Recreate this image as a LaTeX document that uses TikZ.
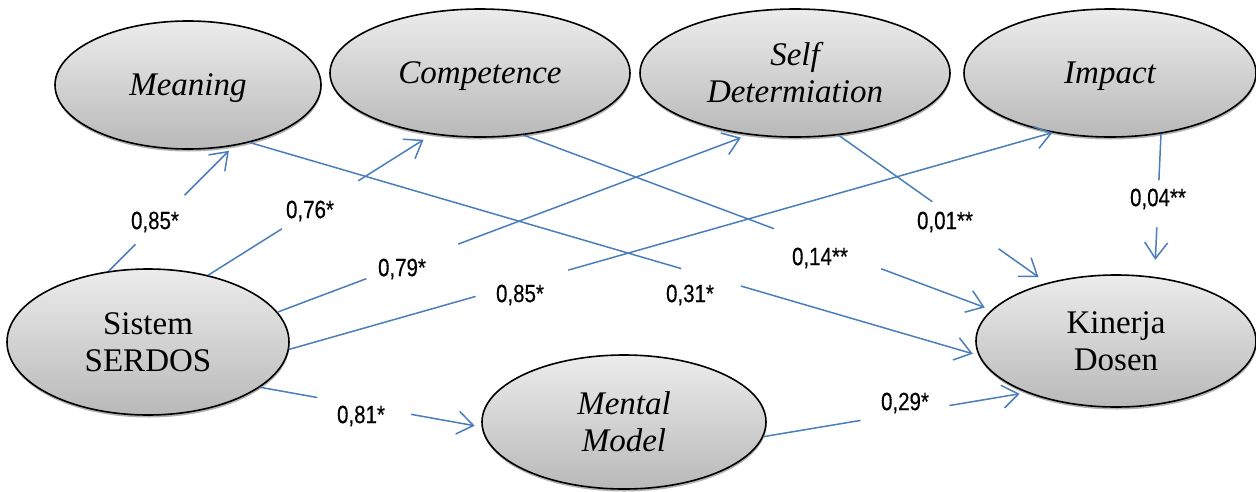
\documentclass[tikz,border=0pt]{standalone}
\usepackage{fontspec}
\setmainfont{Liberation Serif}
\newfontfamily\labfont[FakeStretch=0.82,FakeBold=0.4]{Liberation Sans}
\usetikzlibrary{arrows.meta,shapes.geometric,shadows}
\definecolor{lineblue}{RGB}{74,126,187}
\tikzset{
  latent/.style={ellipse, draw=black, line width=1.6pt, top color=gray!15, bottom color=gray!55,
    inner sep=0pt, align=center, font=\fontsize{33}{37}\selectfont,
    drop shadow={shadow xshift=0.5pt, shadow yshift=-2.5pt, opacity=0.5, fill=black!60}},
  latentit/.style={latent, font=\fontsize{33}{37}\selectfont\itshape},
  oneline/.style={text depth=0pt},
  conn/.style={draw=lineblue, line width=1.5pt,
    -{Straight Barb[length=16pt,width=23pt,line width=1.5pt]}},
  cut/.style={sloped, fill=white, inner sep=0pt, minimum height=5pt},
  lab/.style={font=\labfont\fontsize{25}{28}\selectfont, inner sep=0pt},
}
\begin{document}
\begin{tikzpicture}[x=1pt,y=-1pt]
\useasboundingbox (0,0) rectangle (1256,491);
\node[latentit, oneline, minimum width=266pt, minimum height=128pt] (mean) at (188,85) {Meaning};
\node[latentit, oneline, minimum width=300pt, minimum height=128pt] (comp) at (480,73) {Competence};
\node[latentit, minimum width=310pt, minimum height=128pt] (self) at (795,73) {Self\\Determiation};
\node[latentit, oneline, minimum width=292pt, minimum height=128pt] (imp) at (1110,73) {Impact};
\node[latent, minimum width=282pt, minimum height=146pt] (ser) at (148,342) {Sistem\\SERDOS};
\node[latentit, minimum width=284pt, minimum height=134pt] (men) at (624,422) {Mental\\Model};
\node[latent, minimum width=280pt, minimum height=132pt] (kin) at (1116,341) {Kinerja\\Dosen};

\draw[conn, shorten >=7pt] (ser.119.7) -- node[cut, pos=.41, minimum width=69pt]{} (mean.-53.8);
\draw[conn, shorten >=10pt] (ser.48.7) -- node[cut, pos=.50, minimum width=90pt]{} (comp.-128.7);
\draw[conn, shorten >=8pt] (ser.13.6) -- node[cut, pos=.286, minimum width=98pt]{} (self.-127.4);
\draw[conn] (ser.-3.2) -- node[cut, pos=.305, minimum width=96pt]{} (imp.-134);
\draw[conn, shorten >=7pt] (ser.-22.2) -- node[cut, pos=.47, minimum width=95pt]{} (men.182.3);
\draw[conn, shorten >=6pt] (mean.-43.5) -- node[cut, pos=.633, minimum width=62pt]{} (kin.186.9);
\draw[conn, shorten >=7pt] (comp.-55.5) -- node[cut, pos=.65, minimum width=114pt]{} (kin.166.7);
\draw[conn, shorten >=10pt] (self.-55.3) -- node[cut, pos=.61, minimum width=81pt]{} (kin.140.6);
\draw[conn, shorten >=17pt] (imp.-50.9) -- node[cut, pos=.49, minimum width=47pt]{} (kin.59.8);
\draw[conn, shorten >=7pt] (men.-6.2) -- node[cut, pos=.538, minimum width=90pt]{} (kin.210.2);

\node[lab] (l1) at (155,222) {0,85*};
\node[lab] (l2) at (310,211) {0,76*};
\node[lab] (l3) at (402,269) {0,79*};
\node[lab] (l4) at (520,295) {0,85*};
\node[lab] (l5) at (361,416) {0,81*};
\node[lab] (l6) at (690,295) {0,31*};
\node[lab] (l7) at (820,258) {0,14**};
\node[lab] (l8) at (945,222) {0,01**};
\node[lab] (l9) at (1158,199) {0,04**};
\node[lab] (l10) at (905,403) {0,29*};
\end{tikzpicture}
\end{document}
